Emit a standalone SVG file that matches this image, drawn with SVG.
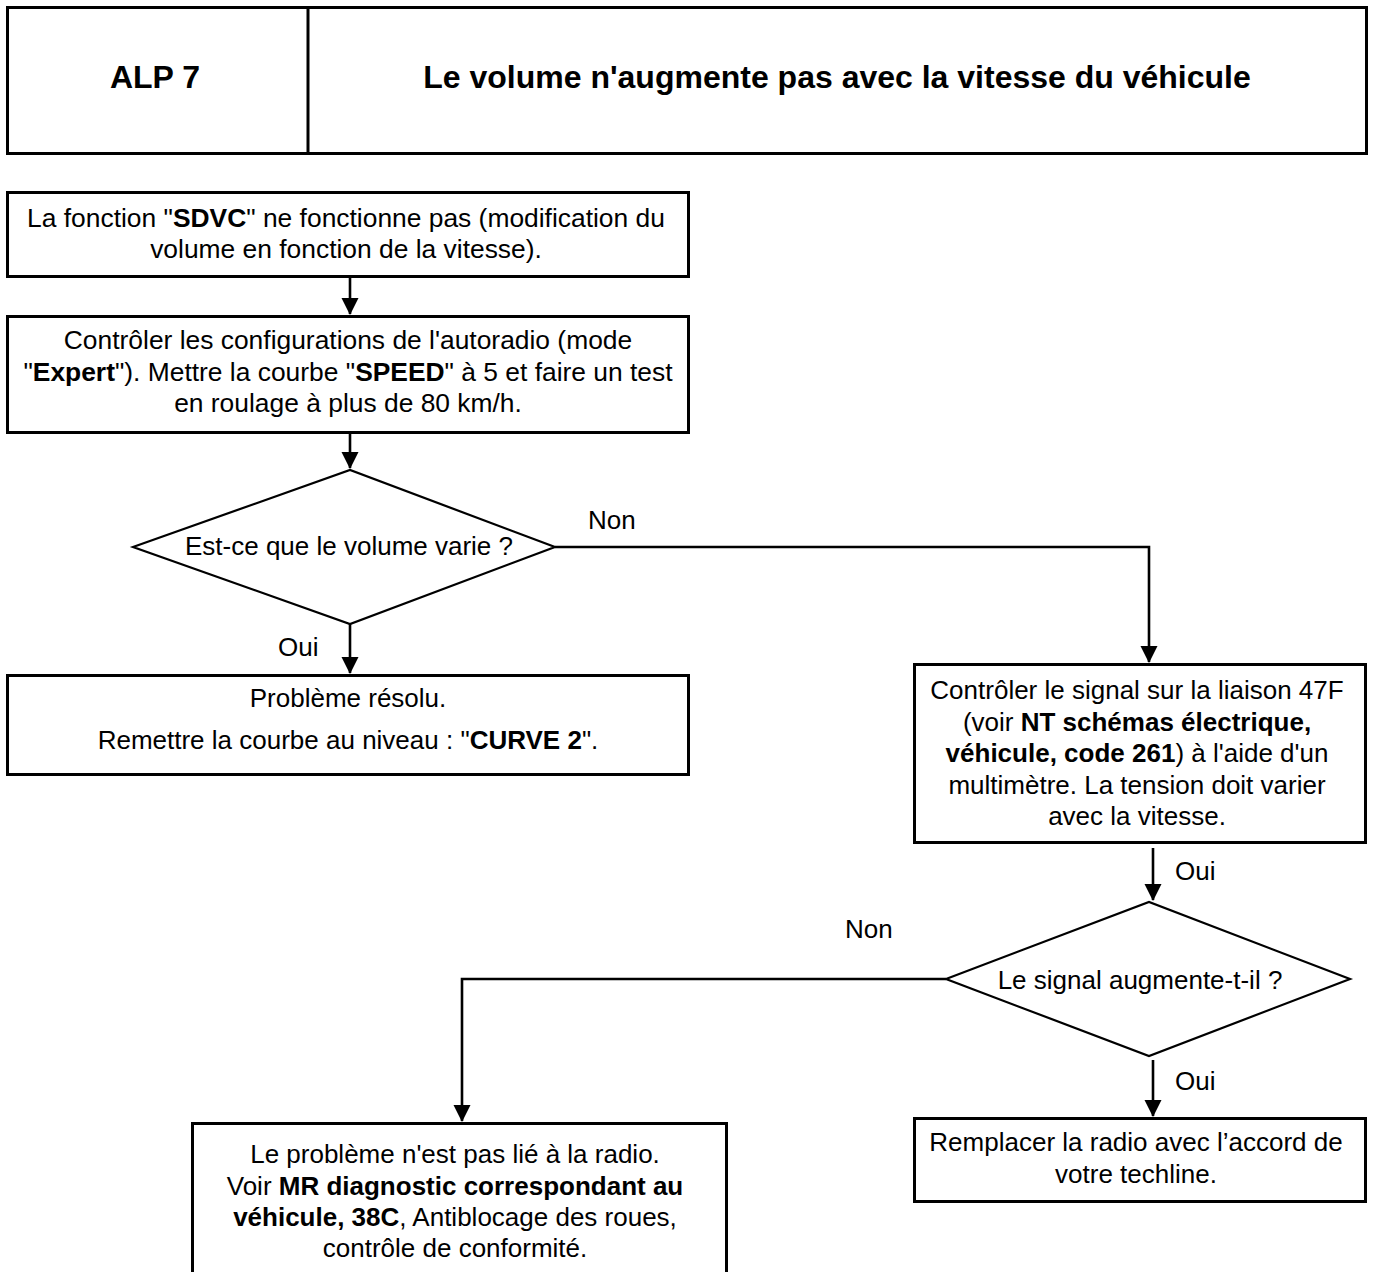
<svg xmlns="http://www.w3.org/2000/svg" width="1374" height="1272" viewBox="0 0 1374 1272">
<style>
.box{fill:#fff;stroke:#000;stroke-width:3}
.dia{fill:#fff;stroke:#000;stroke-width:2.2}
.ln{fill:none;stroke:#000;stroke-width:2.6}
text{font-family:"Liberation Sans",Arial,sans-serif;font-size:26px;fill:#000}
.c{text-anchor:middle}
.b{font-weight:bold}
.h{font-size:32px;font-weight:bold}
.lg{font-size:26.4px}
</style>
<defs>
<marker id="arr" markerUnits="userSpaceOnUse" markerWidth="18" markerHeight="18" refX="16" refY="8.5" orient="auto">
<path d="M0,0 L17,8.5 L0,17 z" fill="#000"/>
</marker>
</defs>
<rect width="1374" height="1272" fill="#fff"/>
<g id="header">
<rect class="box" x="7.5" y="7.5" width="1359" height="146"/>
<line class="ln" x1="308" y1="6" x2="308" y2="154" style="stroke-width:3"/>
<text class="c h" x="155" y="88">ALP 7</text>
<text class="c h" x="837" y="88">Le volume n'augmente pas avec la vitesse du véhicule</text>
</g>
<g id="connectors">
<line class="ln" x1="350" y1="278" x2="350" y2="314" marker-end="url(#arr)"/>
<line class="ln" x1="350" y1="434" x2="350" y2="468" marker-end="url(#arr)"/>
<line class="ln" x1="350" y1="624" x2="350" y2="673" marker-end="url(#arr)"/>
<polyline class="ln" points="555,547 1149,547 1149,662" marker-end="url(#arr)"/>
<line class="ln" x1="1153" y1="848" x2="1153" y2="900" marker-end="url(#arr)"/>
<line class="ln" x1="1153" y1="1060" x2="1153" y2="1116" marker-end="url(#arr)"/>
<polyline class="ln" points="946,979 462,979 462,1121" marker-end="url(#arr)"/>
<text x="588" y="529">Non</text>
<text x="278" y="656">Oui</text>
<text x="1175" y="880">Oui</text>
<text x="845" y="938">Non</text>
<text x="1175" y="1090">Oui</text>
</g>
<g id="n1">
<rect class="box" x="7.5" y="192.5" width="681" height="84"/>
<text class="c lg" x="346" y="227">La fonction "<tspan class="b">SDVC</tspan>" ne fonctionne pas (modification du</text>
<text class="c lg" x="346" y="258">volume en fonction de la vitesse).</text>
</g>
<g id="n2">
<rect class="box" x="7.5" y="316.5" width="681" height="116"/>
<text class="c lg" x="348" y="349">Contrôler les configurations de l'autoradio (mode</text>
<text class="c lg" x="348" y="380.5">"<tspan class="b">Expert</tspan>"). Mettre la courbe "<tspan class="b">SPEED</tspan>" à 5 et faire un test</text>
<text class="c lg" x="348" y="412">en roulage à plus de 80 km/h.</text>
</g>
<g id="d1">
<polygon class="dia" points="133,547 350,470 555,547 350,624"/>
<text class="c" x="349" y="555">Est-ce que le volume varie ?</text>
</g>
<g id="n3">
<rect class="box" x="7.5" y="675.5" width="681" height="99"/>
<text class="c" x="348" y="707">Problème résolu.</text>
<text class="c" x="348" y="749">Remettre la courbe au niveau : "<tspan class="b">CURVE 2</tspan>".</text>
</g>
<g id="n4">
<rect class="box" x="914.5" y="664.5" width="451" height="178"/>
<text class="c" x="1137" y="699">Contrôler le signal sur la liaison  47F</text>
<text class="c" x="1137" y="730.5">(voir <tspan class="b">NT schémas électrique,</tspan></text>
<text class="c" x="1137" y="762"><tspan class="b">véhicule, code 261</tspan>) à l'aide d'un</text>
<text class="c" x="1137" y="793.5">multimètre. La tension doit varier</text>
<text class="c" x="1137" y="825">avec la vitesse.</text>
</g>
<g id="d2">
<polygon class="dia" points="946,979 1149,902 1350,979 1149,1056"/>
<text class="c" x="1140" y="989">Le signal augmente-t-il ?</text>
</g>
<g id="n5">
<rect class="box" x="914.5" y="1118.5" width="451" height="83"/>
<text class="c" x="1136" y="1151">Remplacer la radio avec l’accord de</text>
<text class="c" x="1136" y="1183">votre techline.</text>
</g>
<g id="n6">
<rect class="box" x="192.5" y="1123.5" width="534" height="160"/>
<text class="c" x="455" y="1163">Le problème n'est pas lié à la radio.</text>
<text class="c" x="455" y="1194.5">Voir <tspan class="b">MR diagnostic correspondant au</tspan></text>
<text class="c" x="455" y="1225.5"><tspan class="b">véhicule, 38C</tspan>, Antiblocage des roues,</text>
<text class="c" x="455" y="1257">contrôle de conformité.</text>
</g>
</svg>
